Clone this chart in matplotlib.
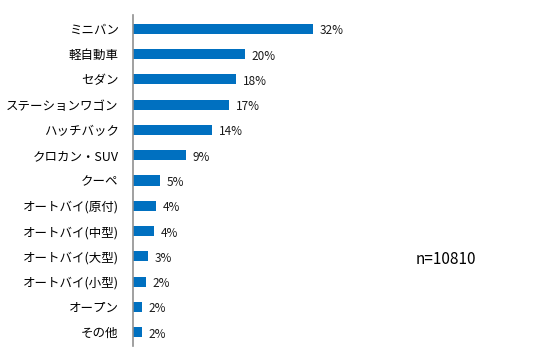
import matplotlib
matplotlib.use("Agg")
import matplotlib.pyplot as plt

plt.rcParams["font.family"] = ["Noto Sans CJK JP", "DejaVu Sans"]

categories = [
    "ミニバン", "軽自動車", "セダン", "ステーションワゴン", "ハッチバック",
    "クロカン・SUV", "クーペ", "オートバイ(原付)", "オートバイ(中型)",
    "オートバイ(大型)", "オートバイ(小型)", "オープン", "その他",
]
values = [32.0, 19.9, 18.3, 17.1, 14.1, 9.4, 4.9, 4.2, 3.8, 2.75, 2.4, 1.7, 1.7]
sample_label = "n=10810"

W, H = 544, 361
fig = plt.figure(figsize=(W / 100, H / 100), dpi=100)
x0, x1 = 132.5, 540
y_top, y_bot = 15, 346
ax = fig.add_axes([x0 / W, 1 - y_bot / H, (x1 - x0) / W, (y_bot - y_top) / H])

pos = list(range(len(categories)))
ax.barh(pos, values, height=0.4, color="#0070C0")
for p, v in zip(pos, values):
    ax.text(v + 1.2, p + 0.08, f"{v:.0f}%", va="center", ha="left",
            fontsize=8.5, color="#1a1a1a")

ax.set_xlim(0, (x1 - x0) / 5.64)
ax.set_ylim(len(categories) - 0.45, -0.55)
ax.set_yticks(pos)
ax.set_yticklabels(categories, fontsize=9, color="#000000")
ax.tick_params(axis="y", length=0, pad=10)
ax.set_xticks([])
for s in ["top", "right", "bottom"]:
    ax.spines[s].set_visible(False)
ax.spines["left"].set_color("#909090")
ax.spines["left"].set_linewidth(1.2)

fig.text(446 / W, 1 - 259 / H, sample_label, ha="center", va="center",
         fontsize=11, color="#000000")

fig.savefig("out.png", dpi=100)
